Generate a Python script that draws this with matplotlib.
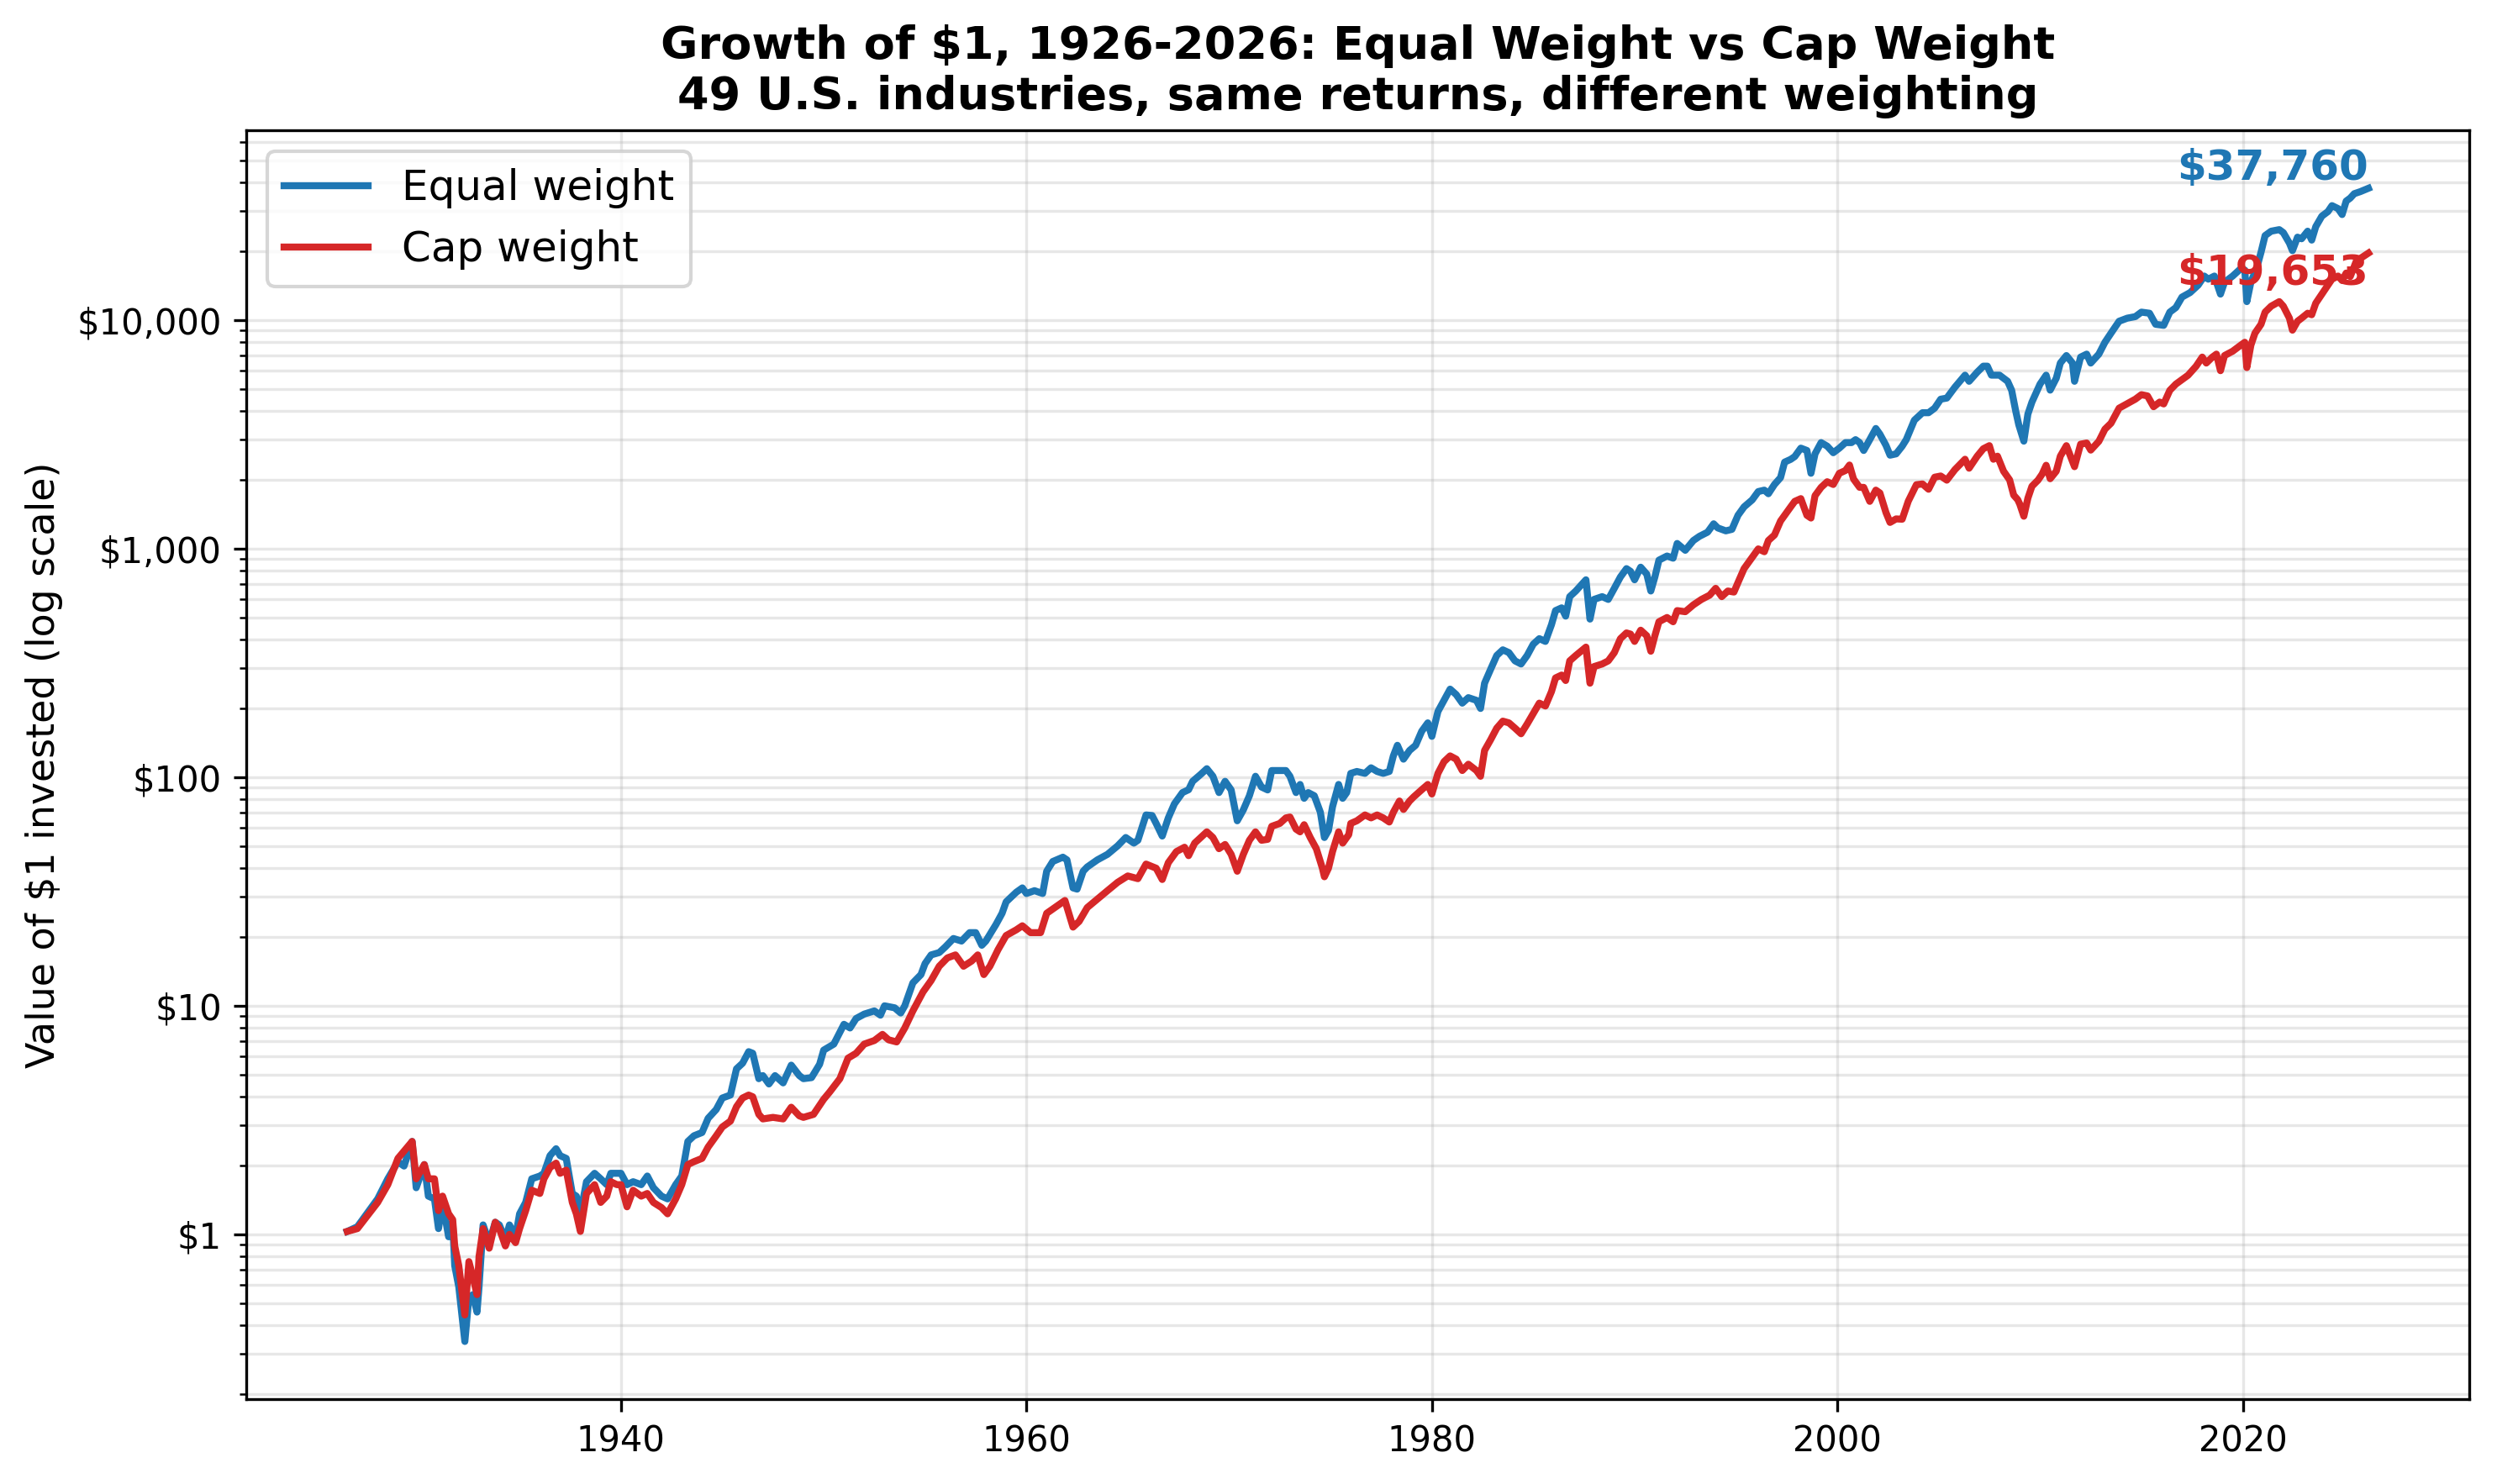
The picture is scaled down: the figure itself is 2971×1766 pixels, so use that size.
import matplotlib
matplotlib.use("Agg")
import matplotlib.pyplot as plt
from matplotlib.ticker import FuncFormatter, MultipleLocator

# values (growth of $1, log scale)
ew_years = [1926.5, 1927.0, 1928.0, 1928.5, 1929.0, 1929.3, 1929.7, 1929.9, 1930.3, 1930.5,
            1930.8, 1931.0, 1931.2, 1931.5, 1931.7, 1931.8, 1932.0, 1932.3, 1932.5, 1932.7,
            1932.9, 1933.0, 1933.2, 1933.5, 1933.8, 1934.0, 1934.3, 1934.5, 1934.8, 1935.0,
            1935.3, 1935.6, 1936.0, 1936.2, 1936.5, 1936.8, 1937.0, 1937.3, 1937.6, 1937.8,
            1938.0, 1938.3, 1938.7, 1939.0, 1939.3, 1939.5, 1939.8, 1940.0, 1940.3, 1940.6,
            1941.0, 1941.3, 1941.6, 1942.0, 1942.3, 1942.7, 1943.0, 1943.3, 1943.6, 1944.0,
            1944.3, 1944.7, 1945.0, 1945.4, 1945.7, 1946.0, 1946.3, 1946.5, 1946.8, 1947.0,
            1947.3, 1947.6, 1948.0, 1948.4, 1948.8, 1949.0, 1949.4, 1949.8, 1950.0, 1950.5,
            1951.0, 1951.3, 1951.6, 1952.0, 1952.5, 1952.8, 1953.0, 1953.5, 1953.8, 1954.0,
            1954.4, 1954.8, 1955.0, 1955.3, 1955.7, 1956.0, 1956.4, 1956.8, 1957.2, 1957.5,
            1957.8, 1958.0, 1958.5, 1958.8, 1959.0, 1959.5, 1959.8, 1960.0, 1960.4, 1960.8,
            1961.0, 1961.3, 1961.8, 1962.0, 1962.3, 1962.5, 1962.8, 1963.0, 1963.5, 1964.0,
            1964.5, 1964.9, 1965.3, 1965.5, 1965.9, 1966.2, 1966.4, 1966.7, 1967.0, 1967.3,
            1967.7, 1968.0, 1968.2, 1968.6, 1968.9, 1969.2, 1969.5, 1969.8, 1970.1, 1970.4,
            1970.7, 1971.0, 1971.3, 1971.6, 1971.9, 1972.1, 1972.5, 1972.8, 1973.0, 1973.3,
            1973.5, 1973.7, 1973.9, 1974.2, 1974.5, 1974.7, 1974.9, 1975.1, 1975.4, 1975.6,
            1975.8, 1976.0, 1976.3, 1976.7, 1977.0, 1977.3, 1977.6, 1977.9, 1978.1, 1978.3,
            1978.6, 1978.9, 1979.2, 1979.5, 1979.8, 1980.0, 1980.3, 1980.6, 1980.9, 1981.2,
            1981.5, 1981.8, 1982.2, 1982.4, 1982.6, 1982.9, 1983.2, 1983.5, 1983.8, 1984.1,
            1984.4, 1984.7, 1985.0, 1985.3, 1985.6, 1985.9, 1986.1, 1986.4, 1986.6, 1986.8,
            1987.1, 1987.6, 1987.8, 1988.0, 1988.4, 1988.7, 1989.0, 1989.3, 1989.6, 1989.8,
            1990.0, 1990.3, 1990.6, 1990.8, 1991.0, 1991.2, 1991.6, 1991.9, 1992.1, 1992.5,
            1992.9, 1993.2, 1993.6, 1993.9, 1994.1, 1994.5, 1994.8, 1995.1, 1995.4, 1995.8,
            1996.1, 1996.4, 1996.6, 1996.9, 1997.2, 1997.4, 1997.7, 1997.9, 1998.2, 1998.5,
            1998.7, 1998.9, 1999.2, 1999.5, 1999.8, 2000.1, 2000.4, 2000.7, 2000.9, 2001.1,
            2001.3, 2001.6, 2001.9, 2002.1, 2002.4, 2002.6, 2002.9, 2003.2, 2003.4, 2003.8,
            2004.2, 2004.5, 2004.8, 2005.1, 2005.4, 2005.8, 2006.3, 2006.5, 2006.9, 2007.2,
            2007.4, 2007.6, 2007.9, 2008.0, 2008.4, 2008.6, 2008.8, 2008.95, 2009.2, 2009.4,
            2009.6, 2009.8, 2010.0, 2010.3, 2010.5, 2010.8, 2011.0, 2011.3, 2011.6, 2011.7,
            2012.0, 2012.3, 2012.5, 2012.9, 2013.2, 2013.5, 2013.9, 2014.3, 2014.7, 2015.0,
            2015.4, 2015.7, 2016.1, 2016.4, 2016.7, 2017.0, 2017.4, 2017.8, 2018.1, 2018.3,
            2018.6, 2018.9, 2019.1, 2019.5, 2019.9, 2020.1, 2020.2, 2020.4, 2020.7, 2020.9,
            2021.1, 2021.4, 2021.8, 2022.0, 2022.3, 2022.45, 2022.7, 2022.9, 2023.2, 2023.4,
            2023.6, 2023.9, 2024.2, 2024.4, 2024.7, 2024.9, 2025.1, 2025.3, 2025.5, 2025.8,
            2026.2]
ew_values = [1.03, 1.08, 1.43, 1.75, 2.08, 1.99, 2.55, 1.60, 2.02, 1.47,
             1.43, 1.06, 1.38, 0.976, 1.13, 0.73, 0.59, 0.34, 0.53, 0.545,
             0.457, 0.59, 1.10, 0.92, 1.13, 1.10, 0.95, 1.10, 0.976, 1.23,
             1.38, 1.75, 1.80, 1.85, 2.21, 2.37, 2.21, 2.15, 1.51, 1.47,
             1.23, 1.70, 1.85, 1.75, 1.65, 1.85, 1.85, 1.85, 1.65, 1.70,
             1.65, 1.80, 1.60, 1.47, 1.43, 1.65, 1.80, 2.55, 2.70, 2.79,
             3.22, 3.52, 3.95, 4.07, 5.30, 5.61, 6.3, 6.2, 4.8, 4.95,
             4.55, 4.95, 4.6, 5.5, 4.95, 4.8, 4.85, 5.55, 6.4, 6.8,
             8.3, 8.0, 8.8, 9.2, 9.5, 9.1, 10.0, 9.8, 9.3, 10.0,
             12.6, 13.7, 15.3, 16.7, 17.1, 18.1, 19.7, 19.2, 20.9, 20.9,
             18.4, 19.2, 22.7, 25.4, 28.5, 31.4, 32.8, 31.0, 31.9, 31.0,
             38.8, 42.8, 44.7, 43.5, 32.8, 32.4, 38.8, 40.5, 43.5, 46.0,
             50.1, 54.5, 51.5, 53.0, 68.4, 68.0, 62.8, 55.3, 66.4, 76.5,
             85.7, 88.2, 96, 103, 109, 101, 85.7, 96, 88, 64.5,
             72, 83, 101, 90.6, 88, 107, 107, 107, 101, 85.7,
             93, 80.9, 85.7, 83, 70.3, 54.5, 58.5, 74.3, 93, 80.9,
             85.7, 104, 106, 104, 110, 106, 104, 106, 124, 138,
             120, 131, 138, 159, 173, 151, 194, 217, 243, 230,
             211, 223, 217, 200, 258, 297, 341, 361, 351, 323,
             313, 341, 382, 404, 393, 465, 536, 551, 507, 617,
             653, 731, 492, 600, 617, 600, 671, 752, 818, 796,
             731, 830, 774, 653, 752, 891, 929, 909, 1054, 984,
             1086, 1133, 1181, 1285, 1233, 1197, 1215, 1400, 1524, 1635,
             1778, 1804, 1740, 1910, 2047, 2392, 2460, 2530, 2754, 2690,
             2138, 2600, 2912, 2810, 2630, 2754, 2912, 2912, 3000, 2912,
             2690, 3000, 3357, 3170, 2832, 2565, 2600, 2810, 3000, 3650,
             3935, 3935, 4120, 4510, 4560, 5090, 5745, 5400, 5920, 6290,
             6290, 5745, 5745, 5745, 5400, 4930, 4000, 3485, 2955, 3880,
             4380, 4790, 5250, 5745, 4940, 5570, 6490, 7000, 6490, 5400,
             6890, 7100, 6490, 7100, 8000, 8770, 9890, 10200, 10360, 10840,
             10720, 9590, 9490, 10840, 11350, 12610, 13200, 14230, 15590, 15110,
             15590, 13000, 14660, 15590, 16800, 16560, 12050, 14660, 17060, 19820,
             23440, 24500, 24890, 24150, 21730, 20140, 23070, 22700, 24500, 22400,
             25650, 28510, 29850, 31700, 30760, 28970, 33180, 34200, 35750, 36500,
             37760]

cw_years = [1926.5, 1927.0, 1928.0, 1928.5, 1929.0, 1929.7, 1929.9, 1930.3, 1930.5, 1930.8,
            1931.0, 1931.2, 1931.5, 1931.7, 1931.8, 1932.0, 1932.3, 1932.5, 1932.7, 1932.9,
            1933.0, 1933.2, 1933.5, 1933.8, 1934.0, 1934.3, 1934.5, 1934.8, 1935.0, 1935.3,
            1935.6, 1936.0, 1936.2, 1936.5, 1936.8, 1937.0, 1937.3, 1937.6, 1937.8, 1938.0,
            1938.3, 1938.7, 1939.0, 1939.3, 1939.5, 1939.8, 1940.0, 1940.3, 1940.6, 1941.0,
            1941.3, 1941.6, 1942.0, 1942.3, 1942.7, 1943.0, 1943.3, 1943.6, 1944.0, 1944.3,
            1944.7, 1945.0, 1945.4, 1945.7, 1946.0, 1946.3, 1946.5, 1946.8, 1947.0, 1947.5,
            1948.0, 1948.4, 1948.8, 1949.0, 1949.5, 1950.0, 1950.3, 1950.8, 1951.2, 1951.6,
            1952.0, 1952.5, 1952.9, 1953.2, 1953.6, 1954.0, 1954.4, 1954.9, 1955.3, 1955.7,
            1956.1, 1956.5, 1956.9, 1957.3, 1957.6, 1957.9, 1958.2, 1958.6, 1959.0, 1959.5,
            1959.8, 1960.2, 1960.7, 1961.0, 1961.4, 1961.9, 1962.3, 1962.6, 1963.0, 1963.5,
            1964.0, 1964.5, 1965.0, 1965.5, 1965.9, 1966.4, 1966.7, 1967.0, 1967.4, 1967.8,
            1968.0, 1968.3, 1968.6, 1968.9, 1969.2, 1969.5, 1969.8, 1970.1, 1970.4, 1970.7,
            1971.0, 1971.3, 1971.6, 1971.9, 1972.1, 1972.5, 1972.8, 1973.0, 1973.3, 1973.5,
            1973.7, 1974.0, 1974.3, 1974.6, 1974.7, 1974.9, 1975.1, 1975.4, 1975.6, 1975.9,
            1976.0, 1976.3, 1976.7, 1977.0, 1977.3, 1977.6, 1977.9, 1978.1, 1978.4, 1978.6,
            1978.9, 1979.1, 1979.5, 1979.8, 1980.0, 1980.3, 1980.6, 1980.9, 1981.2, 1981.5,
            1981.8, 1982.2, 1982.4, 1982.6, 1982.9, 1983.2, 1983.5, 1983.8, 1984.1, 1984.4,
            1984.7, 1985.0, 1985.3, 1985.6, 1985.9, 1986.1, 1986.4, 1986.6, 1986.8, 1987.1,
            1987.6, 1987.8, 1988.0, 1988.4, 1988.7, 1989.0, 1989.3, 1989.6, 1989.8, 1990.0,
            1990.3, 1990.6, 1990.8, 1991.0, 1991.2, 1991.6, 1991.9, 1992.1, 1992.5, 1992.9,
            1993.3, 1993.7, 1994.0, 1994.3, 1994.6, 1994.9, 1995.1, 1995.4, 1995.8, 1996.1,
            1996.4, 1996.6, 1996.9, 1997.2, 1997.4, 1997.7, 1997.9, 1998.2, 1998.5, 1998.7,
            1998.9, 1999.2, 1999.5, 1999.8, 2000.1, 2000.4, 2000.6, 2000.8, 2001.1, 2001.3,
            2001.6, 2001.9, 2002.1, 2002.4, 2002.6, 2002.9, 2003.2, 2003.5, 2003.9, 2004.2,
            2004.5, 2004.8, 2005.1, 2005.4, 2005.8, 2006.3, 2006.5, 2006.9, 2007.2, 2007.5,
            2007.7, 2007.9, 2008.2, 2008.5, 2008.7, 2008.9, 2009.0, 2009.2, 2009.4, 2009.6,
            2009.9, 2010.1, 2010.3, 2010.5, 2010.8, 2011.0, 2011.3, 2011.7, 2012.0, 2012.3,
            2012.5, 2012.9, 2013.2, 2013.5, 2013.9, 2014.3, 2014.7, 2015.0, 2015.3, 2015.6,
            2015.9, 2016.1, 2016.4, 2016.7, 2017.0, 2017.3, 2017.7, 2018.0, 2018.2, 2018.5,
            2018.7, 2018.9, 2019.1, 2019.5, 2019.9, 2020.1, 2020.2, 2020.4, 2020.6, 2020.9,
            2021.1, 2021.4, 2021.8, 2022.0, 2022.3, 2022.45, 2022.7, 2022.9, 2023.2, 2023.4,
            2023.6, 2023.9, 2024.2, 2024.4, 2024.7, 2024.9, 2025.1, 2025.3, 2025.6, 2026.2]
cw_values = [1.03, 1.06, 1.38, 1.65, 2.15, 2.55, 1.75, 2.02, 1.75, 1.75,
             1.27, 1.47, 1.23, 1.16, 0.89, 0.73, 0.444, 0.76, 0.65, 0.545,
             0.80, 1.06, 0.87, 1.13, 1.06, 0.89, 1.0, 0.92, 1.06, 1.27,
             1.56, 1.51, 1.75, 1.96, 2.05, 1.85, 1.91, 1.38, 1.23, 1.03,
             1.51, 1.65, 1.38, 1.47, 1.70, 1.65, 1.65, 1.32, 1.56, 1.47,
             1.51, 1.38, 1.31, 1.23, 1.43, 1.65, 2.02, 2.08, 2.15, 2.41,
             2.70, 2.95, 3.13, 3.62, 3.95, 4.07, 4.0, 3.35, 3.2, 3.25,
             3.2, 3.6, 3.3, 3.25, 3.35, 3.9, 4.2, 4.8, 5.9, 6.2,
             6.8, 7.05, 7.5, 7.1, 6.95, 8.0, 9.5, 11.5, 12.9, 14.9,
             16.2, 16.7, 14.9, 15.7, 16.7, 13.7, 14.9, 17.6, 20.3, 21.5,
             22.4, 20.9, 20.9, 25.4, 26.9, 28.9, 22.1, 23.4, 26.9, 29.3,
             31.9, 34.7, 37.0, 36.0, 41.7, 40.0, 35.7, 42.3, 47.3, 49.4,
             45.4, 51.5, 54.5, 57.7, 54.5, 48.7, 50.8, 46.0, 38.8, 46.0,
             53.0, 57.7, 53.0, 53.5, 61.0, 62.8, 66.4, 67.0, 59.3, 57.7,
             62.0, 54.5, 48.7, 40.0, 36.7, 40.0, 47.3, 57.7, 51.5, 56.1,
             62.8, 64.5, 68.4, 66.4, 68.4, 66.4, 63.7, 70.3, 78.7, 72.3,
             78.7, 82, 88.2, 93, 84.5, 104, 117, 124, 120, 107,
             114, 107, 101, 131, 146, 164, 176, 173, 164, 155,
             171, 190, 211, 205, 237, 272, 280, 265, 323, 341,
             371, 258, 305, 313, 323, 351, 404, 428, 423, 393,
             440, 416, 356, 416, 479, 500, 479, 536, 530, 568,
             600, 626, 671, 617, 653, 646, 711, 818, 916, 998,
             970, 1086, 1148, 1322, 1400, 1524, 1611, 1656, 1400, 1362,
             1706, 1855, 1963, 1910, 2138, 2198, 2323, 2018, 1855, 1855,
             1611, 1804, 1753, 1439, 1303, 1350, 1346, 1614, 1905, 1920,
             1820, 2055, 2080, 1995, 2218, 2462, 2250, 2540, 2737, 2824,
             2462, 2540, 2183, 2000, 1715, 1638, 1566, 1387, 1663, 1876,
             1995, 2118, 2317, 2024, 2183, 2540, 2824, 2285, 2866, 2900,
             2700, 2950, 3334, 3540, 4120, 4310, 4510, 4720, 4660, 4180,
             4380, 4300, 4930, 5250, 5490, 5740, 6290, 6890, 6490, 6890,
             7100, 6010, 7000, 7310, 7770, 8000, 6200, 7770, 8770, 9590,
             10840, 11510, 12050, 11510, 10200, 9040, 9890, 10200, 10720, 10560,
             11860, 13000, 14230, 15110, 15590, 14900, 16070, 15500, 18130, 19653]

series_labels = ["Equal weight", "Cap weight"]
series_colors = ["#1f77b4", "#d62728"]

fig, ax = plt.subplots(figsize=(2971 / 300, 1766 / 300), dpi=300)
fig.subplots_adjust(left=0.0986, right=0.989, top=0.912, bottom=0.0572)

ax.plot(ew_years, ew_values, color=series_colors[0], lw=2, label=series_labels[0])
ax.plot(cw_years, cw_values, color=series_colors[1], lw=2, label=series_labels[1])
ax.set_yscale("log")

ax.yaxis.set_major_formatter(FuncFormatter(lambda v, p: f"${v:,.0f}"))
ax.xaxis.set_major_locator(MultipleLocator(20))
ax.grid(True, which="both", alpha=0.3)

# end-of-period labels
ax.text(ew_years[-1], ew_values[-1], f"${ew_values[-1]:,.0f}", color=series_colors[0],
        fontsize=12, fontweight="bold", ha="right", va="bottom")
ax.text(cw_years[-1], cw_values[-1], f"${cw_values[-1]:,.0f}", color=series_colors[1],
        fontsize=12, fontweight="bold", ha="right", va="top")

ax.set_ylabel("Value of $1 invested (log scale)", fontsize=11)
ax.set_title("Growth of $1, 1926-2026: Equal Weight vs Cap Weight\n"
             "49 U.S. industries, same returns, different weighting",
             fontsize=13, fontweight="bold")
ax.legend(loc="upper left", fontsize=12)

plt.savefig("out.png", dpi=300)
